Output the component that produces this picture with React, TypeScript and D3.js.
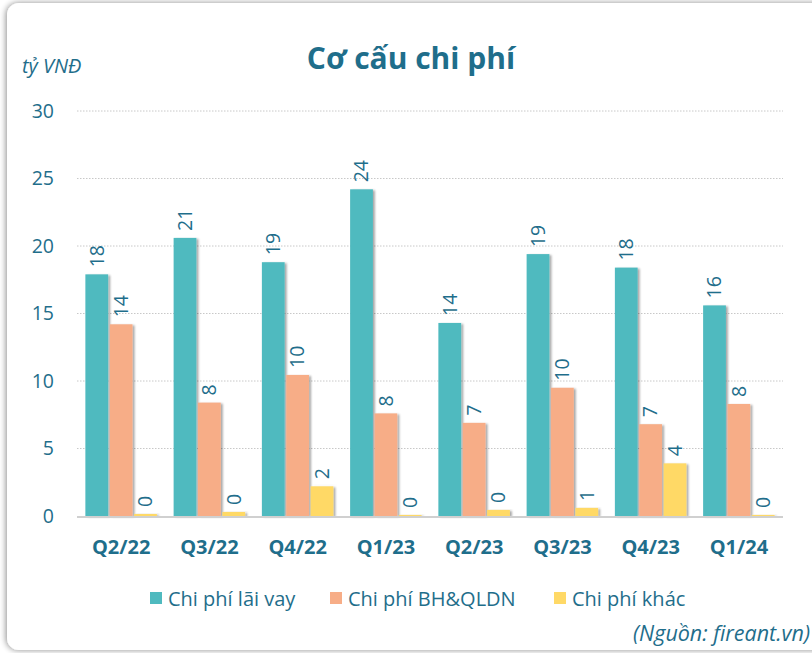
import React from "react";
import * as d3 from "d3";

const categories = ["Q2/22", "Q3/22", "Q4/22", "Q1/23", "Q2/23", "Q3/23", "Q4/23", "Q1/24"];
const seriesNames = ["Chi phí lãi vay", "Chi phí BH&QLDN", "Chi phí khác"];
const laiVay = [17.9, 20.6, 18.8, 24.2, 14.3, 19.4, 18.4, 15.6];
const bhQldn = [14.2, 8.4, 10.45, 7.6, 6.9, 9.5, 6.8, 8.3];
const khac = [0.15, 0.3, 2.2, 0.08, 0.45, 0.6, 3.9, 0.08];
const yTicks = [0, 5, 10, 15, 20, 25, 30];
const title = "Cơ cấu chi phí";
const unitLabel = "tỷ VNĐ";
const sourceLabel = "(Nguồn: fireant.vn)";

const colors = ["#4fbabf", "#f7ad87", "#ffd966"];
const textColor = "#1f6e8b";
const FONT = "'Open Sans', sans-serif";

export default function App() {
  React.useEffect(() => {
    document.body.style.margin = "0";
  }, []);
  const W = 812, H = 653;
  const y = d3.scaleLinear().domain([0, 30]).range([516, 111]);
  const x0 = d3.scaleBand<string>().domain(categories).range([77, 783]);
  const groupW = 71.5;
  const x1 = d3.scaleBand<number>().domain([0, 1, 2]).range([0, groupW]).paddingInner(0.065);
  const series = [laiVay, bhQldn, khac];
  const legendX = [150, 330, 554];

  return (
    <svg width={W} height={H} style={{ position: "absolute", left: 0, top: 0, fontFamily: FONT }}>
      <defs>
        <filter id="cardShadow" x="-5%" y="-5%" width="110%" height="110%">
          <feGaussianBlur in="SourceAlpha" stdDeviation="3" />
          <feOffset dx="-1" dy="0" result="b" />
          <feComponentTransfer><feFuncA type="linear" slope="0.45" /></feComponentTransfer>
          <feMerge><feMergeNode /><feMergeNode in="SourceGraphic" /></feMerge>
        </filter>
        <filter id="barShadow" x="-20%" y="-5%" width="150%" height="110%">
          <feGaussianBlur in="SourceAlpha" stdDeviation="1.2" />
          <feOffset dx="2" dy="0.5" result="b" />
          <feComponentTransfer><feFuncA type="linear" slope="0.35" /></feComponentTransfer>
          <feMerge><feMergeNode /><feMergeNode in="SourceGraphic" /></feMerge>
        </filter>
      </defs>
      <rect x={0} y={0} width={W} height={H} fill="#ffffff" />
      <rect x={7} y={3} width={W + 20} height={647} rx={12} fill="#ffffff" filter="url(#cardShadow)" />

      <text x={411} y={69} textAnchor="middle" fontSize={30} fontWeight={700} fill={textColor}>{title}</text>
      <text x={22} y={73} fontSize={20} fontStyle="italic" fill={textColor}>{unitLabel}</text>

      {yTicks.map((t) => (
        <g key={t}>
          {t > 0 && (
            <line x1={77} x2={783} y1={y(t)} y2={y(t)} stroke="#c8c8c8" strokeWidth={1} strokeDasharray="1.5 1.5" />
          )}
          <text x={54} y={y(t)} dy="0.35em" textAnchor="end" fontSize={19.5} fill={textColor}>{t}</text>
        </g>
      ))}

      {categories.map((c, i) => {
        const gx = (x0(c) as number) + (x0.bandwidth() - groupW) / 2;
        return (
          <g key={c}>
            {series.map((s, si) => {
              const bx = gx + (x1(si) as number);
              const bw = x1.bandwidth();
              const top = y(s[i]);
              return (
                <g key={si}>
                  <rect x={bx} y={top} width={bw} height={y(0) - top} fill={colors[si]} filter="url(#barShadow)" />
                  <text
                    transform={`translate(${bx + bw / 2},${top - 7}) rotate(-90)`}
                    dy="0.35em"
                    fontSize={19.5}
                    fill={textColor}
                  >
                    {Math.round(s[i])}
                  </text>
                </g>
              );
            })}
            <text x={(x0(c) as number) + x0.bandwidth() / 2} y={554} textAnchor="middle" fontSize={20} fontWeight={700} fill={textColor}>{c}</text>
          </g>
        );
      })}
      <line x1={77} x2={783} y1={y(0) + 1} y2={y(0) + 1} stroke="#d0d0d0" strokeWidth={2} />

      {seriesNames.map((n, i) => (
        <g key={n}>
          <rect x={legendX[i]} y={592} width={12} height={12} fill={colors[i]} />
          <text x={legendX[i] + 18} y={606} fontSize={20} fill={textColor}>{n}</text>
        </g>
      ))}

      <text x={810} y={641} textAnchor="end" fontSize={21.5} fontStyle="italic" fill={textColor}>{sourceLabel}</text>
    </svg>
  );
}
